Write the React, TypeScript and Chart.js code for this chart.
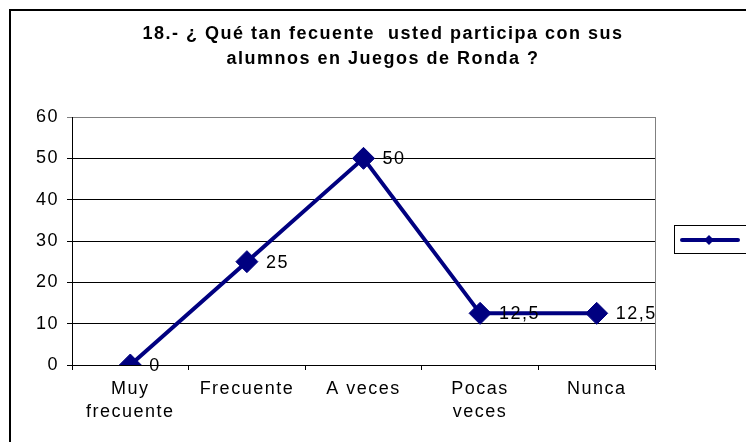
import React, { useEffect, useRef } from 'react';
import { Chart, registerables } from 'chart.js';

Chart.register(...registerables);

const categories: (string | string[])[] = [['Muy', 'frecuente'], 'Frecuente', 'A veces', ['Pocas', 'veces'], 'Nunca'];
const values = [0, 25, 50, 12.5, 12.5];
const valueLabels = ['0', '25', '50', '12,5', '12,5'];
const yMin = 0;
const yMax = 60;
const yStep = 10;
const titleLines = ['18.- ¿ Qué tan fecuente  usted participa con sus', 'alumnos en Juegos de Ronda ?'];

const NAVY = '#000080';
const FONT = "'Liberation Sans', Arial, sans-serif";
const SPACING = '1.5px';

const spacingPlugin = {
  id: 'spacing',
  beforeUpdate(chart: any) {
    chart.ctx.letterSpacing = SPACING;
  },
  beforeDraw(chart: any) {
    chart.ctx.letterSpacing = SPACING;
  },
};

const decorPlugin = {
  id: 'decor',
  afterDraw(chart: any) {
    const ctx = chart.ctx;
    const ca = chart.chartArea;
    ctx.save();
    // outer frame (top and left)
    ctx.fillStyle = '#000';
    ctx.fillRect(9, 9, 746 - 9, 2);
    ctx.fillRect(9, 9, 2, 442 - 9);
    // plot area right border
    ctx.strokeStyle = '#808080';
    ctx.lineWidth = 1;
    ctx.beginPath();
    ctx.moveTo(Math.round(ca.right) + 0.5, ca.top);
    ctx.lineTo(Math.round(ca.right) + 0.5, ca.bottom);
    ctx.stroke();
    // title
    ctx.fillStyle = '#000';
    ctx.font = `bold 18px ${FONT}`;
    ctx.letterSpacing = SPACING;
    ctx.textAlign = 'center';
    ctx.textBaseline = 'middle';
    ctx.fillText(titleLines[0], 383, 34);
    ctx.fillText(titleLines[1], 383, 59);
    // legend
    ctx.strokeStyle = '#000';
    ctx.lineWidth = 1;
    ctx.strokeRect(674.5, 225.5, 80, 28);
    const ds = chart.data.datasets[0];
    ctx.strokeStyle = ds.borderColor;
    ctx.lineWidth = 4;
    ctx.lineCap = 'round';
    ctx.beginPath();
    ctx.moveTo(682, 240);
    ctx.lineTo(738, 240);
    ctx.stroke();
    ctx.fillStyle = ds.borderColor;
    ctx.beginPath();
    ctx.moveTo(709, 235);
    ctx.lineTo(714, 240);
    ctx.lineTo(709, 245);
    ctx.lineTo(704, 240);
    ctx.closePath();
    ctx.fill();
    // data labels
    const meta = chart.getDatasetMeta(0);
    ctx.font = `18px ${FONT}`;
    ctx.letterSpacing = SPACING;
    ctx.textAlign = 'left';
    ctx.textBaseline = 'middle';
    ctx.fillStyle = '#000';
    meta.data.forEach((pt: any, i: number) => {
      ctx.fillText(valueLabels[i], pt.x + 19, pt.y + 1);
    });
    ctx.restore();
  },
};

export default function App() {
  const ref = useRef<HTMLCanvasElement>(null);
  useEffect(() => {
    if (!ref.current) return;
    const chart = new Chart(ref.current, {
      type: 'line',
      data: {
        labels: categories,
        datasets: [
          {
            label: '',
            data: values,
            borderColor: NAVY,
            backgroundColor: NAVY,
            borderWidth: 4,
            pointStyle: 'rectRot',
            pointRadius: 11,
            pointBorderWidth: 1,
            pointBackgroundColor: NAVY,
            pointBorderColor: NAVY,
            tension: 0,
          },
        ],
      },
      options: {
        animation: false,
        responsive: false,
        devicePixelRatio: 1,
        layout: { padding: { left: 0, top: 117, right: 91, bottom: 0 } },
        plugins: {
          legend: { display: false },
          title: { display: false },
          tooltip: { enabled: false },
        },
        scales: {
          x: {
            offset: true,
            afterFit: (s: any) => { s.height = 77; },
            grid: { drawOnChartArea: false, offset: true, tickLength: 5, color: '#000' },
            border: { color: '#000', width: 1 },
            ticks: { color: '#000', font: { family: FONT, size: 18, lineHeight: 1.3 }, padding: 7, maxRotation: 0, autoSkip: false },
          },
          y: {
            min: yMin,
            max: yMax,
            afterFit: (s: any) => { s.width = 72; },
            grid: {
              tickLength: 5,
              color: (c: any) => (c.tick && c.tick.value === yMax ? '#808080' : '#000'),
            },
            border: { color: '#000', width: 1 },
            ticks: { stepSize: yStep, color: '#000', font: { family: FONT, size: 18 }, padding: 8 },
          },
        },
      },
      plugins: [spacingPlugin, decorPlugin],
    } as any);
    return () => chart.destroy();
  }, []);
  return (
    <div style={{ position: 'fixed', left: 0, top: 0, width: 746, height: 442, background: '#fff' }}>
      <canvas ref={ref} width={746} height={442} style={{ width: 746, height: 442, display: 'block' }} />
    </div>
  );
}
